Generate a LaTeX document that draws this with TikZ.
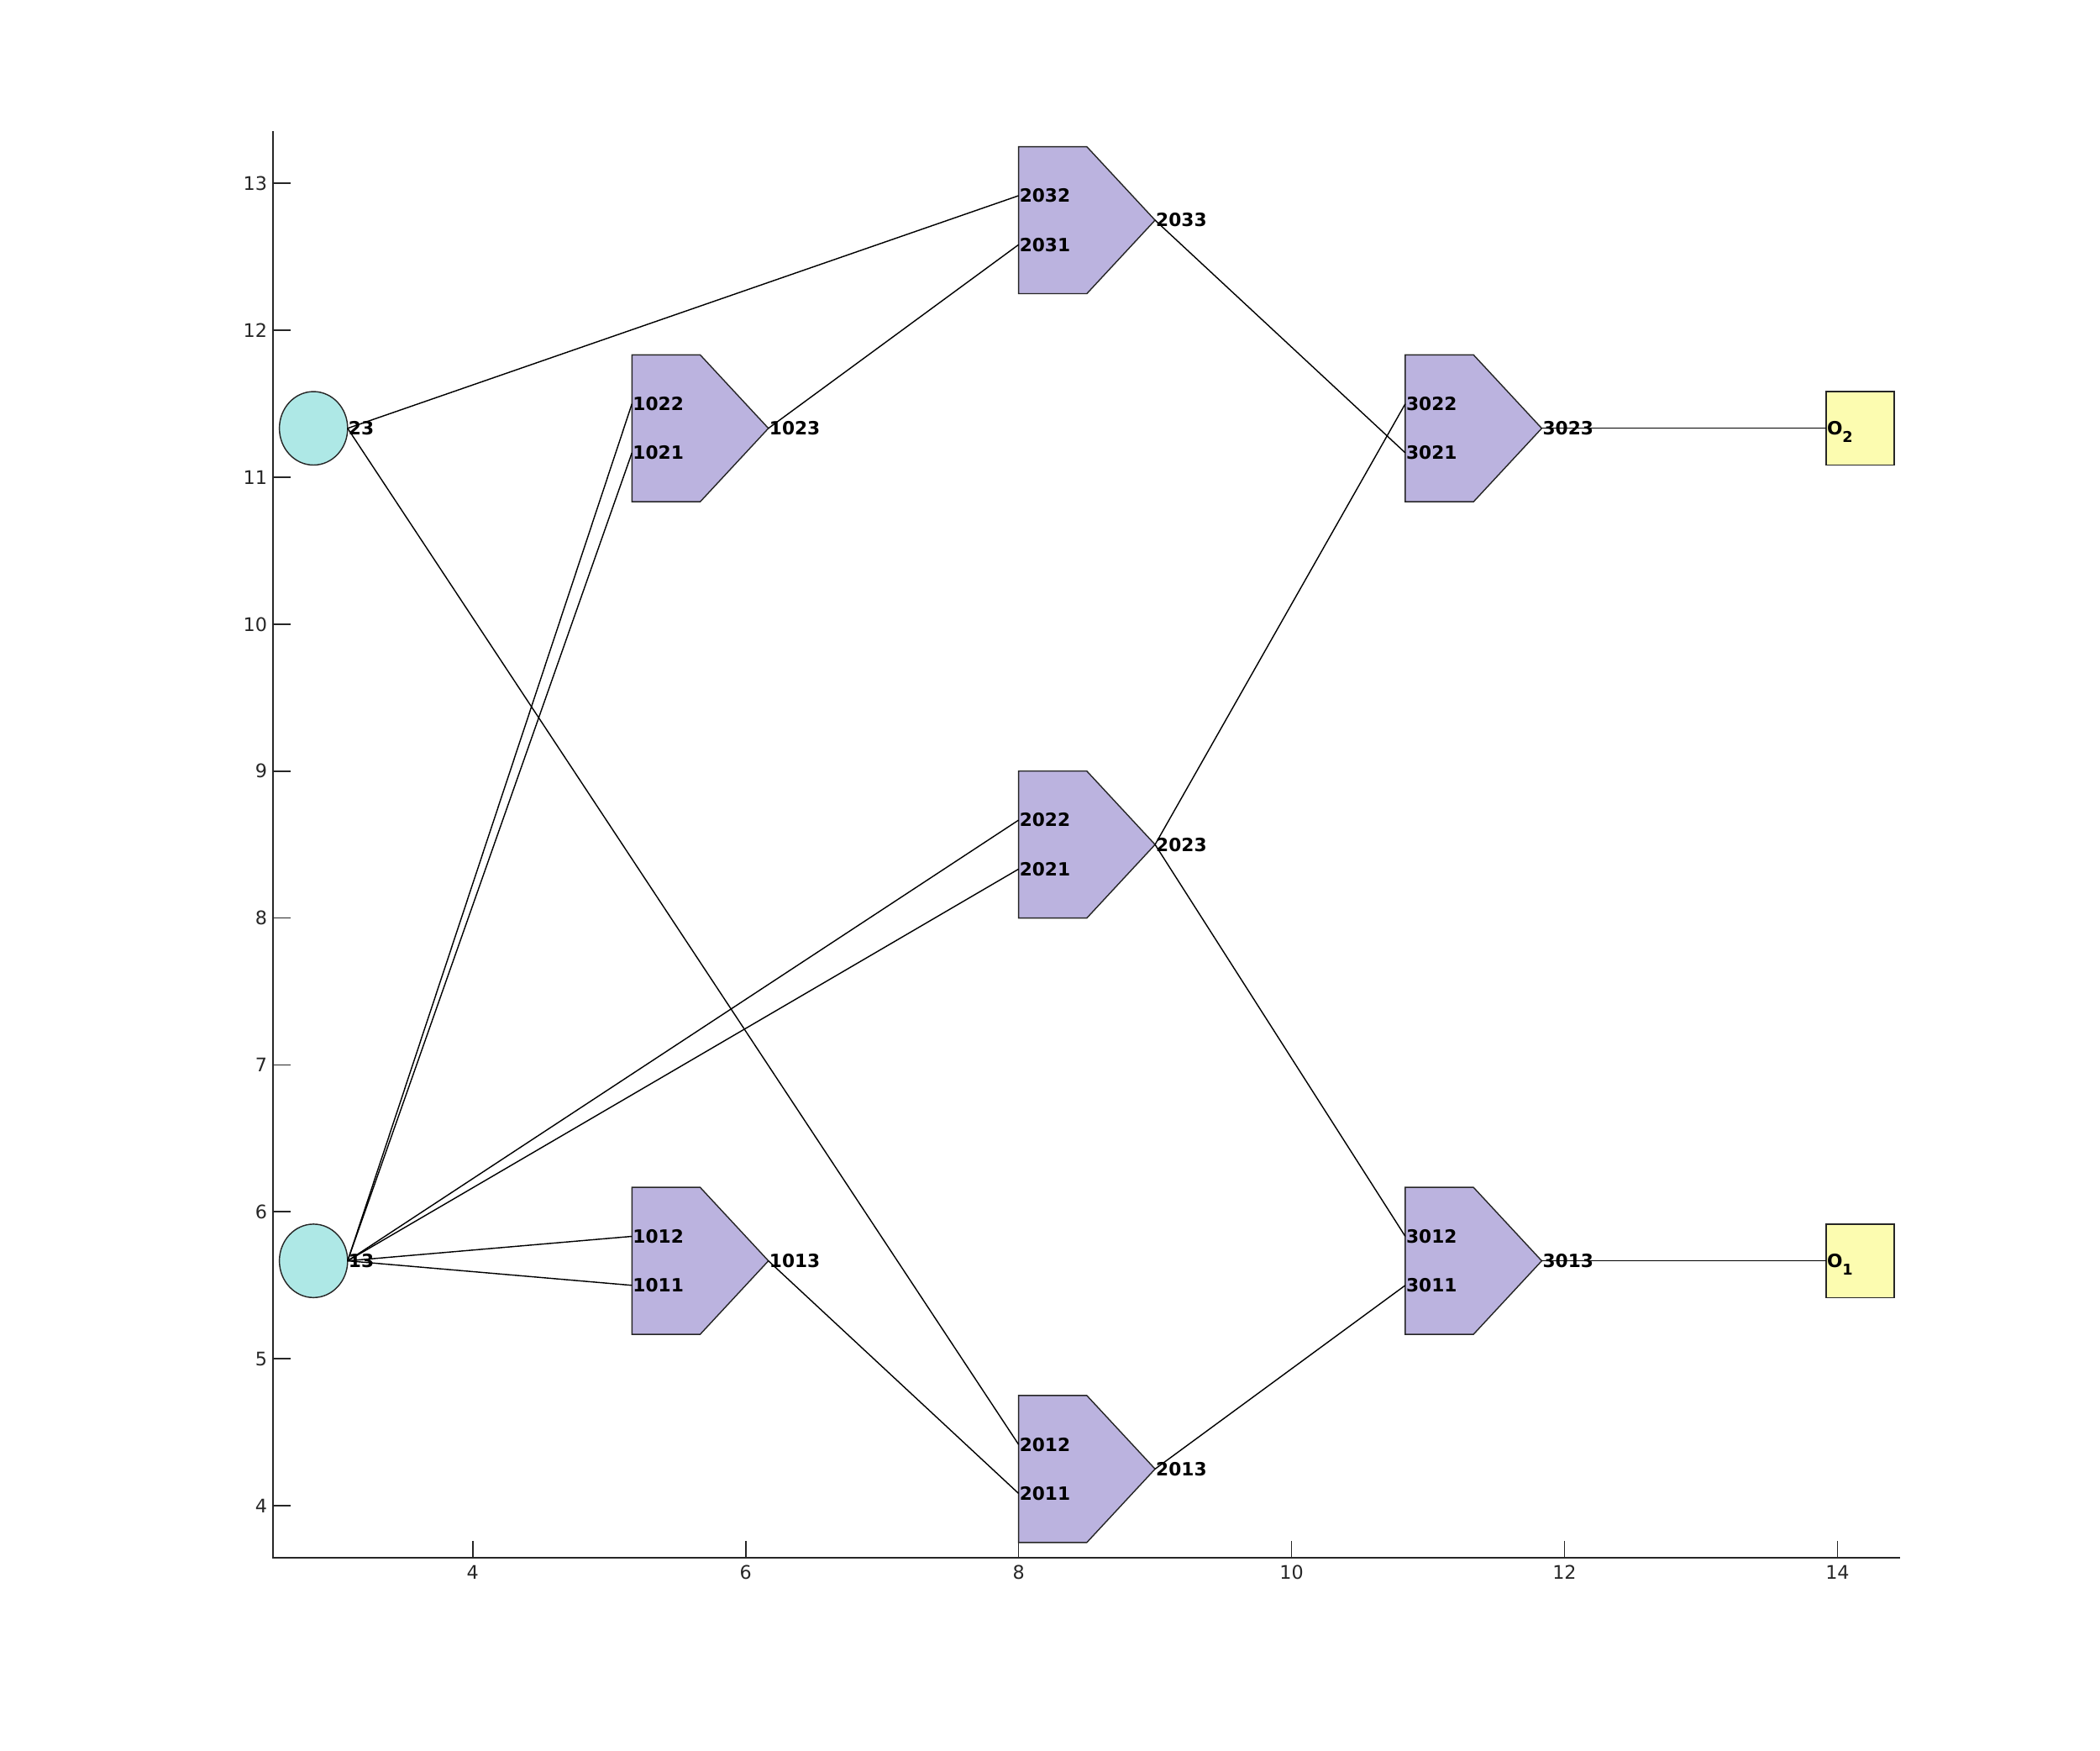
\documentclass[tikz,border=0pt]{standalone}
\usepackage{fontspec}
\setmainfont{DejaVu Sans}
\definecolor{axisgray}{HTML}{262626}
\definecolor{srcfill}{HTML}{AEE8E6}
\definecolor{pentfill}{HTML}{BBB3DF}
\definecolor{sinkfill}{HTML}{FCFCB0}
\begin{document}
\begin{tikzpicture}[x=1cm,y=1.0763cm,
  conn/.style={line width=0.25pt, black},
  outl/.style={line width=0.25pt, draw=black!85},
  lab/.style={font=\fontsize{3.8}{4.5}\selectfont\bfseries, anchor=west, inner sep=0pt},
  ticklab/.style={font=\fontsize{3.9}{4.5}\selectfont, text=axisgray, inner sep=0pt},
  axis/.style={line width=0.3pt, draw=axisgray},
  pics/pent/.style n args={3}{code={
     \filldraw[outl, fill=pentfill] (0,-0.5) -- (0.5,-0.5) -- (1,0) -- (0.5,0.5) -- (0,0.5) -- cycle;
     \coordinate (-a) at (0,0.16667);
     \coordinate (-b) at (0,-0.16667);
     \coordinate (-o) at (1,0);
     \node[lab] (-la) at (0,0.16667) {#1};
     \node[lab] (-lb) at (0,-0.16667) {#2};
     \node[lab] (-lo) at (1,0) {#3};
  }}]
\useasboundingbox (0.536,2.336) rectangle (15.924,14.249);

% axes
\coordinate (ax0) at (2.538,3.644);
\coordinate (axx) at (14.461,3.644);
\coordinate (axy) at (2.538,13.356);
\draw[axis] (axy) -- (ax0) -- (axx);
\foreach \xv in {4,6,8,10,12,14} {
  \draw[axis] (\xv,3.644) -- (\xv,3.758);
  \node[ticklab, anchor=north] (xl\xv) at (\xv,3.60) {\xv};
}
\foreach \yv in {4,...,13} {
  \draw[axis] (2.538,\yv) -- (2.664,\yv);
  \node[ticklab, anchor=east] (yl\yv) at (2.50,\yv) {\yv};
}

% sources
\filldraw[outl, fill=srcfill] (2.8333,11.3333) ellipse [x radius=0.25, y radius=0.25];
\filldraw[outl, fill=srcfill] (2.8333,5.6667) ellipse [x radius=0.25, y radius=0.25];
\coordinate (s2) at (3.0833,11.3333);
\coordinate (s1) at (3.0833,5.6667);
\node[lab] (ls2) at (s2) {23};
\node[lab] (ls1) at (s1) {13};

% processing units
\pic (p10) at (5.1667,5.6667) {pent={1012}{1011}{1013}};
\pic (p11) at (5.1667,11.3333) {pent={1022}{1021}{1023}};
\pic (p20) at (8,4.25) {pent={2012}{2011}{2013}};
\pic (p21) at (8,8.5) {pent={2022}{2021}{2023}};
\pic (p22) at (8,12.75) {pent={2032}{2031}{2033}};
\pic (p30) at (10.8333,5.6667) {pent={3012}{3011}{3013}};
\pic (p31) at (10.8333,11.3333) {pent={3022}{3021}{3023}};

% sinks
\filldraw[outl, fill=sinkfill] (13.9167,11.0833) rectangle (14.4167,11.5833);
\filldraw[outl, fill=sinkfill] (13.9167,5.4167) rectangle (14.4167,5.9167);
\coordinate (o2) at (13.9167,11.3333);
\coordinate (o1) at (13.9167,5.6667);
\node[lab, anchor=base west] (lo2) at ([yshift=-1.38pt]o2) {O\raisebox{-1.6pt}{\fontsize{3.1}{3.4}\selectfont\bfseries 2}};
\node[lab, anchor=base west] (lo1) at ([yshift=-1.38pt]o1) {O\raisebox{-1.6pt}{\fontsize{3.1}{3.4}\selectfont\bfseries 1}};

% connectors
\draw[conn] (s2) -- (p22-a);
\draw[conn] (s2) -- (p20-a);
\draw[conn] (s1) -- (p11-a);
\draw[conn] (s1) -- (p11-b);
\draw[conn] (s1) -- (p21-a);
\draw[conn] (s1) -- (p21-b);
\draw[conn] (s1) -- (p10-a);
\draw[conn] (s1) -- (p10-b);
\draw[conn] (p11-o) -- (p22-b);
\draw[conn] (p10-o) -- (p20-b);
\draw[conn] (p22-o) -- (p31-b);
\draw[conn] (p21-o) -- (p31-a);
\draw[conn] (p21-o) -- (p30-a);
\draw[conn] (p20-o) -- (p30-b);
\draw[conn] (p31-o) -- (o2);
\draw[conn] (p30-o) -- (o1);
\end{tikzpicture}
\end{document}
